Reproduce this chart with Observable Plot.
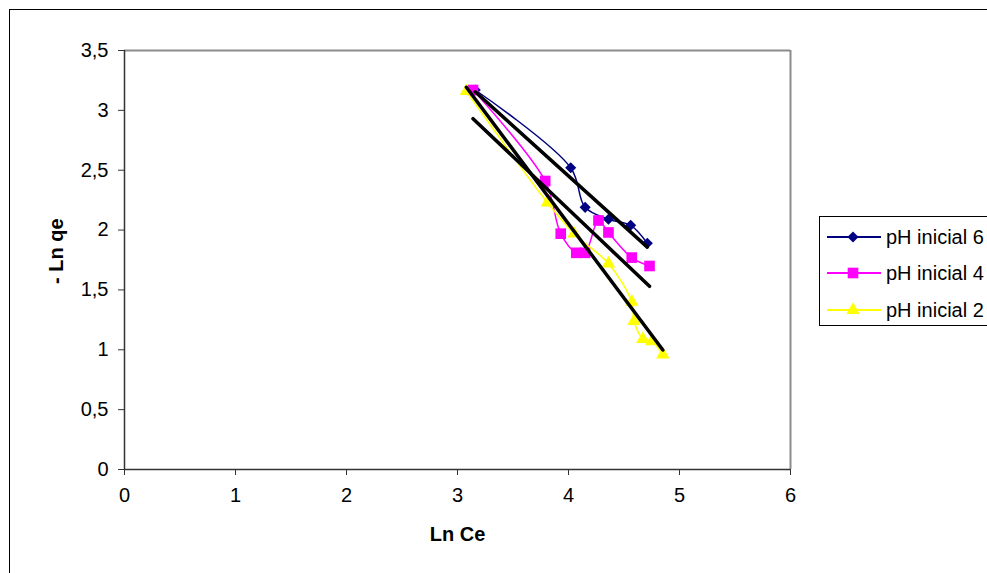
<!DOCTYPE html>
<html>
<head>
<meta charset="utf-8">
<script src="https://cdn.jsdelivr.net/npm/d3@7"></script>
<script src="https://cdn.jsdelivr.net/npm/@observablehq/plot@0.6"></script>
<style>
  html, body { margin: 0; padding: 0; background: #fff; }
  #wrap { position: relative; width: 987px; height: 573px; overflow: hidden; font-family: "Liberation Sans", Arial, sans-serif; }
  #border { position: absolute; left: 9px; top: 9px; width: 1100px; height: 700px; border: 1px solid #000; box-sizing: border-box; }
  #chart { position: absolute; left: 0; top: 0; }
  #legend { position: absolute; left: 819px; top: 216px; width: 300px; height: 110px; border: 1px solid #000; box-sizing: border-box; background: #fff; }
  .item { position: absolute; left: 0; height: 30px; display: flex; align-items: center; font-size: 20px; color: #000; white-space: nowrap; }
  .item svg { margin-left: 7px; margin-right: 5px; }
</style>
</head>
<body>
<div id="wrap">
  <div id="border"></div>
  <div id="chart"></div>
  <div id="legend"></div>
</div>
<script>
// ---- data ----
const seriesNames = ["pH inicial 6", "pH inicial 4", "pH inicial 2"];
const ph6X = [3.16, 4.02, 4.15, 4.36, 4.56, 4.71];
const ph6Y = [3.17, 2.52, 2.19, 2.09, 2.04, 1.89];
const ph4X = [3.14, 3.79, 3.93, 4.07, 4.15, 4.27, 4.36, 4.57, 4.73];
const ph4Y = [3.17, 2.41, 1.97, 1.81, 1.81, 2.08, 1.98, 1.77, 1.70];
const ph2X = [3.08, 3.81, 4.05, 4.36, 4.57, 4.59, 4.67, 4.75, 4.85];
const ph2Y = [3.16, 2.23, 1.97, 1.72, 1.40, 1.24, 1.09, 1.07, 0.96];
// linear trend lines (slope, intercept) for each series
const trendSlope = [-0.837, -0.881, -1.240];
const trendIntercept = [5.80, 5.697, 7.012];
const xTicks = [0, 1, 2, 3, 4, 5, 6];
const yTicks = [0, 0.5, 1, 1.5, 2, 2.5, 3, 3.5];
const xTitle = "Ln Ce";
const yTitle = "- Ln qe";

// ---- styling ----
const colors = ["#000080", "#FF00FF", "#FFFF00"];
const symbols = ["diamond2", "square", "triangle"];
const radii = [5.0, 6.0, 5.0];

const xs = [ph6X, ph4X, ph2X];
const ys = [ph6Y, ph4Y, ph2Y];
const series = seriesNames.map((name, i) => xs[i].map((x, j) => ({series: name, x, y: ys[i][j]})));
const trends = seriesNames.map((name, i) => {
  const [x0, x1] = d3.extent(xs[i]);
  return [x0, x1].map(x => ({series: name, x, y: trendIntercept[i] + trendSlope[i] * x}));
});

const marks = [
  Plot.ruleY([yTicks[yTicks.length - 1]], {stroke: "#8c8c8c", strokeWidth: 2}),
  Plot.ruleX([xTicks[xTicks.length - 1]], {stroke: "#8c8c8c", strokeWidth: 2}),
  Plot.axisX({ticks: xTicks, tickSize: 6, tickPadding: 12, label: null, tickFormat: d => String(d), stroke: "#333"}),
  Plot.axisY({ticks: yTicks, tickSize: 6, tickPadding: 10, label: null, tickFormat: d => String(d).replace(".", ","), stroke: "#333"}),
  Plot.ruleX([0], {stroke: "#333", strokeWidth: 1.5}),
  Plot.ruleY([0], {stroke: "#333", strokeWidth: 1.5}),
];
series.forEach((data, i) => {
  marks.push(Plot.line(data, {x: "x", y: "y", stroke: colors[i], strokeWidth: 1.5, curve: "catmull-rom"}));
  marks.push(Plot.dot(data, {x: "x", y: "y", symbol: () => symbols[i], r: radii[i], fill: colors[i], stroke: "none"}));
});
trends.forEach(data => {
  marks.push(Plot.line(data, {x: "x", y: "y", stroke: "#000", strokeWidth: 3.5}));
});
marks.push(Plot.text([xTitle], {frameAnchor: "bottom", dy: 71, fontWeight: "bold", fontSize: 20, fill: "#000"}));
marks.push(Plot.text([yTitle], {frameAnchor: "left", dx: -68, dy: 24, rotate: -90, fontWeight: "bold", fontSize: 20, fill: "#000"}));

const chart = Plot.plot({
  width: 987,
  height: 573,
  marginLeft: 124,
  marginRight: 197,
  marginTop: 50,
  marginBottom: 104,
  x: {domain: [xTicks[0], xTicks[xTicks.length - 1]]},
  y: {domain: [yTicks[0], yTicks[yTicks.length - 1]]},
  style: {fontFamily: "'Liberation Sans', Arial, sans-serif", fontSize: "20px", background: "transparent", color: "#000"},
  marks
});
document.getElementById("chart").appendChild(chart);

// ---- legend ----
const legend = document.getElementById("legend");
const legendTops = [5, 41, 78];
seriesNames.forEach((name, i) => {
  const item = document.createElement("div");
  item.className = "item";
  item.style.top = legendTops[i] + "px";
  const svg = d3.create("svg").attr("width", 54).attr("height", 20);
  svg.append("line").attr("x1", 0).attr("x2", 54).attr("y1", 10).attr("y2", 10).attr("stroke", colors[i]).attr("stroke-width", 2);
  const sym = {diamond2: d3.symbolDiamond2, square: d3.symbolSquare, triangle: d3.symbolTriangle}[symbols[i]];
  svg.append("path").attr("d", d3.symbol(sym, Math.PI * radii[i] * radii[i])()).attr("transform", "translate(26,10)").attr("fill", colors[i]);
  item.appendChild(svg.node());
  const span = document.createElement("span");
  span.textContent = name;
  item.appendChild(span);
  legend.appendChild(item);
});
</script>
</body>
</html>
